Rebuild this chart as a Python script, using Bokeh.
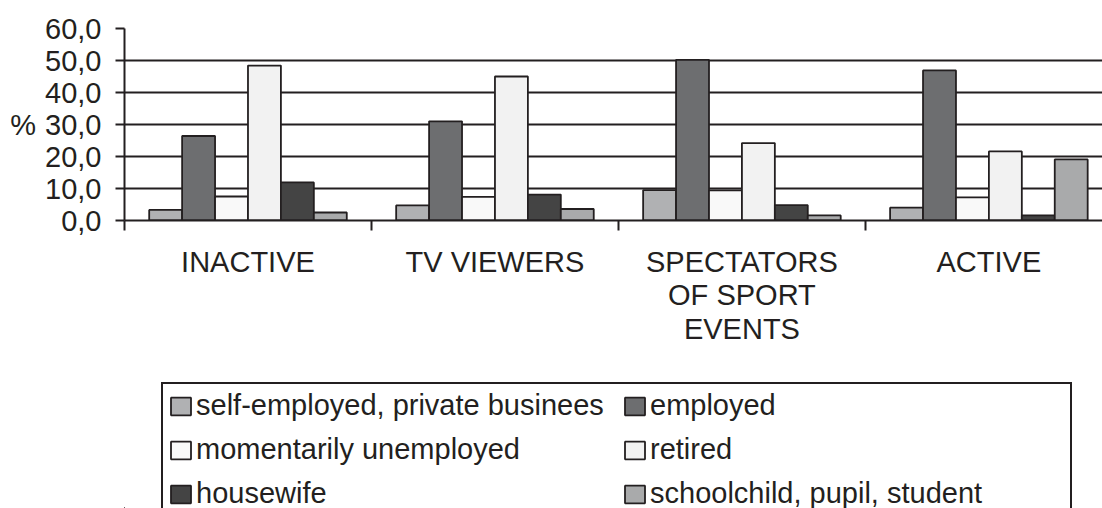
from bokeh.plotting import figure
from bokeh.models import Range1d, FixedTicker, ColumnDataSource, Legend, LegendItem
from bokeh.transform import dodge
from bokeh.layouts import column
from bokeh.embed import file_html
from bokeh.resources import INLINE

# ---------------- data ----------------
categories = ["INACTIVE", "TV VIEWERS", "SPECTATORS\nOF SPORT\nEVENTS", "ACTIVE"]
series = ["self-employed, private businees", "employed", "momentarily unemployed",
          "retired", "housewife", "schoolchild, pupil, student"]
self_employed = [3.3, 4.7, 9.5, 4.0]
employed = [26.4, 31.0, 50.2, 46.9]
unemployed = [7.5, 7.4, 9.4, 7.2]
retired = [48.4, 45.0, 24.2, 21.6]
housewife = [11.9, 8.1, 4.8, 1.6]
student = [2.5, 3.6, 1.6, 19.1]
y_ticks = [0, 10, 20, 30, 40, 50, 60]
y_tick_labels = ["0,0", "10,0", "20,0", "30,0", "40,0", "50,0", "60,0"]
y_title = "%"

# ---------------- style ----------------
colors = ["#b0b1b3", "#6d6e70", "#f9f9f9", "#f2f2f2", "#444444", "#a9aaab"]
DARK = "#231f20"
FONT = "Liberation Sans"
FS = "29px"

values = [self_employed, employed, unemployed, retired, housewife, student]
xc = [i + 0.5 for i in range(len(categories))]
data = {"x": xc}
keys = []
for j, v in enumerate(values):
    k = "s%d" % j
    keys.append(k)
    data[k] = v
src = ColumnDataSource(data)

p = figure(width=1102, height=370, x_range=Range1d(0, 3.96), y_range=Range1d(0, 60),
           toolbar_location=None, output_backend="svg",
           min_border_left=124, min_border_top=28, min_border_right=0, min_border_bottom=150)
p.outline_line_color = None
p.background_fill_color = "white"

bw = 0.8 / len(series)
for j, k in enumerate(keys):
    off = (j - (len(series) - 1) / 2) * bw
    p.vbar(x=dodge("x", off, range=p.x_range), top=k, width=bw, source=src,
           fill_color=colors[j], line_color=DARK, line_width=1.8)

# grid
p.xgrid.visible = False
p.ygrid.ticker = FixedTicker(ticks=y_ticks)
p.ygrid.grid_line_color = DARK
p.ygrid.grid_line_width = 2
p.ygrid.level = "underlay"

# y axis
p.yaxis.ticker = FixedTicker(ticks=y_ticks)
p.yaxis.major_label_overrides = {t: l for t, l in zip(y_ticks, y_tick_labels)}
p.yaxis.major_label_text_font = FONT
p.yaxis.major_label_text_font_size = FS
p.yaxis.major_label_text_color = DARK
p.yaxis.major_tick_out = 9
p.yaxis.major_tick_in = 0
p.yaxis.major_tick_line_color = DARK
p.yaxis.major_tick_line_width = 2
p.yaxis.minor_tick_line_color = None
p.yaxis.axis_line_color = DARK
p.yaxis.axis_line_width = 2
p.yaxis.major_label_standoff = 14
p.yaxis.axis_label = y_title
p.yaxis.axis_label_orientation = "horizontal"
p.yaxis.axis_label_text_font = FONT
p.yaxis.axis_label_text_font_size = FS
p.yaxis.axis_label_text_font_style = "normal"
p.yaxis.axis_label_text_color = DARK
p.yaxis.axis_label_standoff = 6

# x axis: labels at category centres, ticks at category boundaries
p.xaxis.ticker = FixedTicker(ticks=xc, minor_ticks=list(range(len(categories) + 1)))
p.xaxis.major_label_overrides = {x: c for x, c in zip(xc, categories)}
p.xaxis.major_label_text_font = FONT
p.xaxis.major_label_text_font_size = FS
p.xaxis.major_label_text_color = DARK
p.xaxis.major_label_text_line_height = 1.05
p.xaxis.major_tick_line_color = None
p.xaxis.major_label_standoff = 15
p.xaxis.minor_tick_out = 10
p.xaxis.minor_tick_in = 0
p.xaxis.minor_tick_line_color = DARK
p.xaxis.minor_tick_line_width = 2
p.xaxis.axis_line_color = DARK
p.xaxis.axis_line_width = 2

# ---------------- legend ----------------
pl = figure(width=1102, height=138, x_range=Range1d(0, 1), y_range=Range1d(0, 1),
            toolbar_location=None, output_backend="svg",
            x_axis_location=None, y_axis_location=None,
            min_border_left=124, min_border_top=0, min_border_right=0, min_border_bottom=0)
pl.outline_line_color = None
pl.grid.visible = False
items = []
for name, c in zip(series, colors):
    # legend-only renderer, its single bar lies outside the visible range
    r = pl.vbar(x=[-5], top=[-5], width=0.1, fill_color=c, line_color=DARK, line_width=1.8)
    items.append(LegendItem(label=name, renderers=[r]))
legend = Legend(items=items, location=(37, -9), orientation="horizontal", ncols=2,
                label_text_font=FONT, label_text_font_size=FS, label_text_color=DARK,
                glyph_width=25, glyph_height=22, label_standoff=3, label_width=415,
                spacing=11, padding=5, margin=0,
                border_line_color=DARK, border_line_width=2, border_line_alpha=1,
                background_fill_alpha=1)
pl.add_layout(legend, "center")

layout = column(p, pl, spacing=0)
open("out.html", "w").write(file_html(layout, INLINE))
